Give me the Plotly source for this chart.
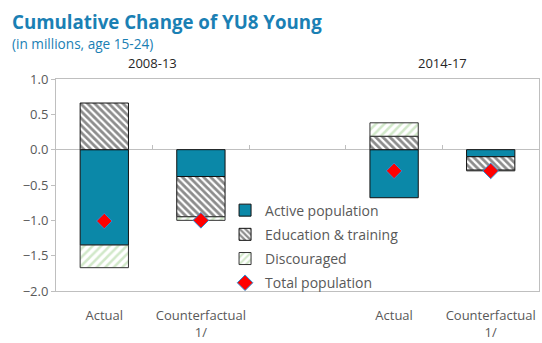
import plotly.graph_objects as go

# Categories: two periods, each with an actual and a counterfactual bar
positions = [0, 1, 3, 4]
tick_labels = ["Actual", "Counterfactual<br>1/", "Actual", "Counterfactual<br>1/"]
period_labels = ["2008-13", "2014-17"]
period_centers = [0.5, 3.5]

# Contributions to the cumulative change (millions)
active = [-1.35, -0.38, -0.68, -0.10]
education = [0.66, -0.57, 0.19, -0.19]
discouraged = [-0.32, -0.05, 0.19, -0.01]
total = [-1.01, -1.00, -0.30, -0.30]

TEAL = "#0b88a8"
GREY_TXT = "#595959"
FRAME = "#bfbfbf"
FONT = "Open Sans"

fig = go.Figure()

fig.add_trace(go.Bar(
    x=positions, y=active, name="Active population", width=0.5,
    legendgroup="a",
    marker=dict(color=TEAL, line=dict(color="#111111", width=1)),
))
fig.add_trace(go.Bar(
    x=positions, y=education, name="Education & training", width=0.5,
    legendgroup="e",
    marker=dict(color="white", line=dict(color="#111111", width=1),
                pattern=dict(shape="\\", fgcolor="#1a1a1a", bgcolor="white",
                             size=5, solidity=0.55)),
))
fig.add_trace(go.Bar(
    x=positions, y=discouraged, name="Discouraged", width=0.5,
    legendgroup="d",
    marker=dict(color="white", line=dict(color="#333333", width=1),
                pattern=dict(shape="/", fgcolor="#a3d193", bgcolor="white",
                             size=6, solidity=0.42)),
))
fig.add_trace(go.Scatter(
    x=positions, y=total, name="Total population", mode="markers",
    legendgroup="t",
    marker=dict(symbol="diamond", size=12, color="#ff0000",
                line=dict(color="#2a8fd6", width=1)),
))

# Invisible helper axis sitting on y=0 that carries the divider ticks
fig.add_trace(go.Scatter(x=[None], y=[None], xaxis="x2", showlegend=False,
                         hoverinfo="skip"))

fig.update_layout(
    width=542, height=343,
    margin=dict(l=56, r=2, t=79, b=48),
    paper_bgcolor="white", plot_bgcolor="white",
    barmode="relative",
    font=dict(family=FONT, size=13, color=GREY_TXT),
    showlegend=True,
    legend=dict(x=0.35, y=0.455, xanchor="left", yanchor="top",
                bgcolor="rgba(0,0,0,0)", font=dict(size=14, color=GREY_TXT),
                tracegroupgap=3, itemwidth=30, traceorder="grouped"),
    xaxis=dict(range=[-0.5, 4.5], tickmode="array", tickvals=positions,
               ticktext=tick_labels, ticks="", ticklabelstandoff=12,
               showgrid=False, zeroline=False,
               showline=True, linecolor=FRAME, linewidth=1, mirror=True,
               tickfont=dict(size=13, color=GREY_TXT)),
    xaxis2=dict(range=[-0.5, 4.5], overlaying="x", anchor="free",
                position=2 / 3, side="bottom", tickmode="array",
                tickvals=[0.5, 1.5, 2.5, 3.5], ticks="inside", ticklen=5,
                tickcolor=FRAME, showticklabels=False, showgrid=False,
                zeroline=False, showline=False),
    yaxis=dict(range=[-2, 1], dtick=0.5, tickformat=".1f", ticks="outside",
               ticklen=4, tickcolor=FRAME, showgrid=False, zeroline=True,
               zerolinecolor=FRAME, zerolinewidth=1, showline=True,
               linecolor=FRAME, linewidth=1, mirror=True,
               tickfont=dict(size=13, color=GREY_TXT)),
)

annotations = [
    dict(text="<b>Cumulative Change of YU8 Young</b>", x=10, y=343 - 20,
         xref="paper", yref="paper", showarrow=False, xanchor="left",
         yanchor="middle", font=dict(size=18.7, color="#1a80b4", family=FONT)),
    dict(text="(in millions, age 15-24)", x=10, y=343 - 43,
         xref="paper", yref="paper", showarrow=False, xanchor="left",
         yanchor="middle", font=dict(size=13.6, color="#1a80b4", family=FONT)),
]
# Convert the pixel-based header positions into paper fractions
plot_w = 542 - 56 - 2
plot_h = 343 - 79 - 48
for a in annotations:
    a["x"] = (a["x"] - 56) / plot_w
    a["y"] = (a["y"] - 48) / plot_h

for label, cx in zip(period_labels, period_centers):
    annotations.append(dict(text=label, x=cx, xref="x", y=1.0, yref="paper",
                            yshift=16, showarrow=False, yanchor="middle",
                            font=dict(size=13, color="#262626")))

fig.update_layout(annotations=annotations)

fig.write_html("out.html")
